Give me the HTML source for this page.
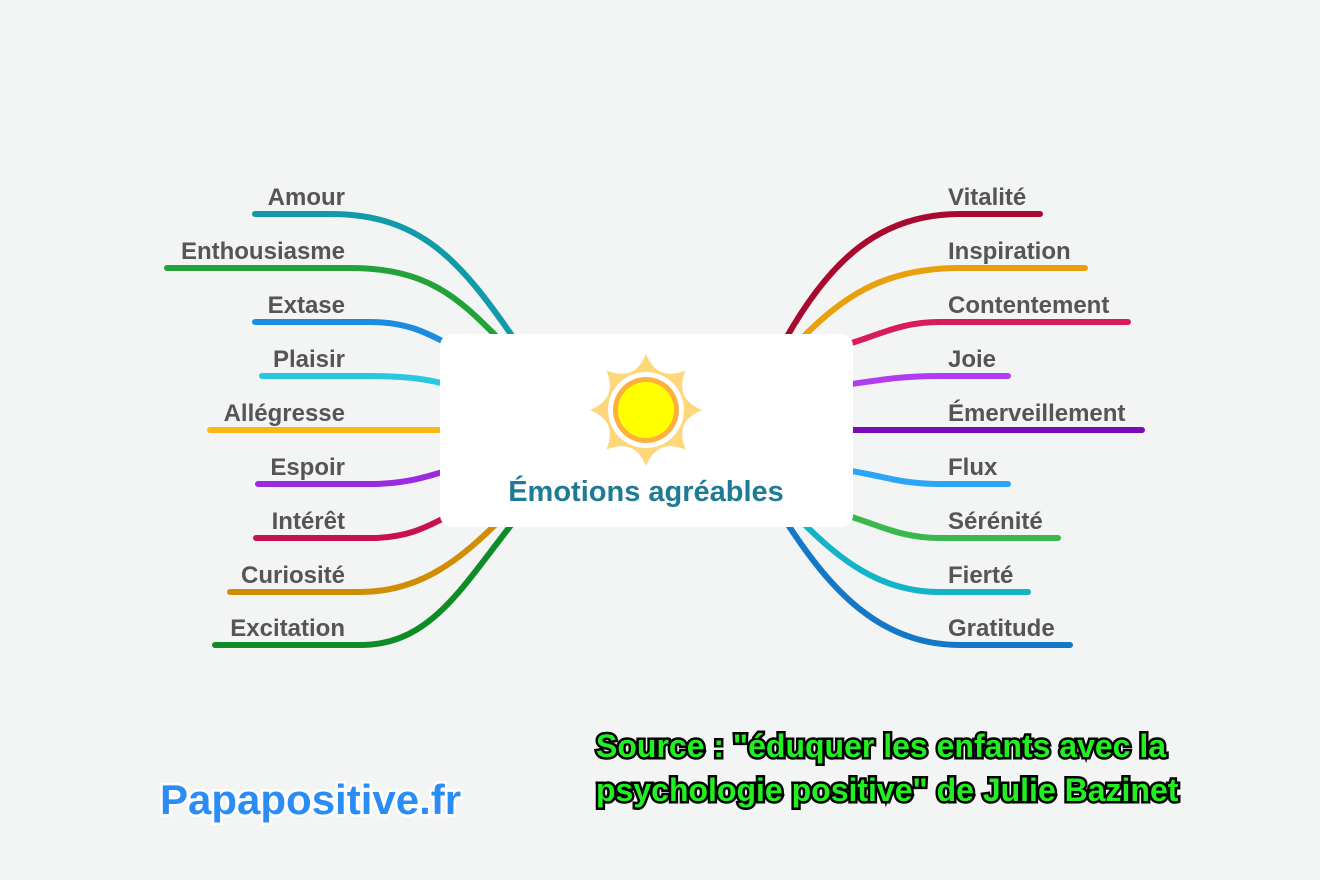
<!DOCTYPE html>
<html><head><meta charset="utf-8"><style>
body{margin:0;width:1320px;height:880px;background:#f3f4f4;overflow:hidden;font-family:"Liberation Sans",sans-serif}
svg{position:absolute;left:0;top:0}
</style></head><body>
<svg width="1320" height="880" viewBox="0 0 1320 880">
<g fill="none" stroke-width="6" stroke-linecap="round">
<path d="M255 214 H330 C420 214 460 260 515 340" stroke="#119aa8"/>
<path d="M167 268 H350 C430 268 460 300 500 340" stroke="#22a33a"/>
<path d="M255 322 H370 C410 322 430 335 450 345" stroke="#1a8de0"/>
<path d="M262 376 H370 C410 376 430 380 450 385" stroke="#2ac8e0"/>
<path d="M210 430 H450" stroke="#fbb714"/>
<path d="M258 484 H370 C410 484 430 475 450 470" stroke="#9b2be0"/>
<path d="M256 538 H370 C410 538 430 525 450 515" stroke="#c8124e"/>
<path d="M230 592 H360 C420 592 460 560 500 520" stroke="#d08e07"/>
<path d="M215 645 H360 C430 645 460 590 515 520" stroke="#0e8c25"/>
<path d="M1040 214 H960 C880 214 830 260 785 340" stroke="#a8092e"/>
<path d="M1085 268 H960 C880 268 840 300 800 340" stroke="#e8a00c"/>
<path d="M1128 322 H940 C900 322 880 335 845 345" stroke="#d81b5a"/>
<path d="M1008 376 H940 C900 376 880 380 845 385" stroke="#b23cf0"/>
<path d="M1142 430 H845" stroke="#7a0ab8"/>
<path d="M1008 484 H940 C900 484 880 475 845 470" stroke="#2aa6f5"/>
<path d="M1058 538 H940 C900 538 880 525 845 515" stroke="#3ab84e"/>
<path d="M1028 592 H940 C880 592 840 560 800 520" stroke="#12b4c8"/>
<path d="M1070 645 H960 C880 645 830 590 785 520" stroke="#1478c8"/>
</g>
<rect x="440" y="334" width="413" height="193" rx="12" fill="#fff"/>
<g transform="translate(646,410)">
<path fill="#fdd77a" d="M0,-56 Q11.5,-27.7 39.6,-39.6 Q27.7,-11.5 56,0 Q27.7,11.5 39.6,39.6 Q11.5,27.7 0,56 Q-11.5,27.7 -39.6,39.6 Q-27.7,11.5 -56,0 Q-27.7,-11.5 -39.6,-39.6 Q-11.5,-27.7 0,-56 Z"/>
<circle r="38" fill="#fff"/>
<circle r="33" fill="#fbb13c"/>
<circle r="28" fill="#ffff00"/>
</g>
<text x="646" y="501" text-anchor="middle" font-size="29" font-weight="bold" fill="#1f7a94" font-family="Liberation Sans">Émotions agréables</text>
<g font-size="24" font-weight="bold" fill="#555" font-family="Liberation Sans" text-anchor="end">
<text x="345" y="205">Amour</text>
<text x="345" y="259">Enthousiasme</text>
<text x="345" y="313">Extase</text>
<text x="345" y="367">Plaisir</text>
<text x="345" y="421">Allégresse</text>
<text x="345" y="475">Espoir</text>
<text x="345" y="529">Intérêt</text>
<text x="345" y="583">Curiosité</text>
<text x="345" y="636">Excitation</text>
</g>
<g font-size="24" font-weight="bold" fill="#555" font-family="Liberation Sans">
<text x="948" y="205">Vitalité</text>
<text x="948" y="259">Inspiration</text>
<text x="948" y="313">Contentement</text>
<text x="948" y="367">Joie</text>
<text x="948" y="421">Émerveillement</text>
<text x="948" y="475">Flux</text>
<text x="948" y="529">Sérénité</text>
<text x="948" y="583">Fierté</text>
<text x="948" y="636">Gratitude</text>
</g>
<text x="160" y="814" font-size="42" font-weight="bold" fill="#2a8cf5" stroke="#fff" stroke-width="5" paint-order="stroke" font-family="Liberation Sans">Papapositive.fr</text>
<g font-size="32" font-weight="bold" fill="#22ee22" stroke="#000" stroke-width="5" paint-order="stroke" font-family="Liberation Sans">
<text x="596" y="757">Source : "éduquer les enfants avec la</text>
<text x="596" y="801">psychologie positive" de Julie Bazinet</text>
</g>
</svg>
</body></html>
